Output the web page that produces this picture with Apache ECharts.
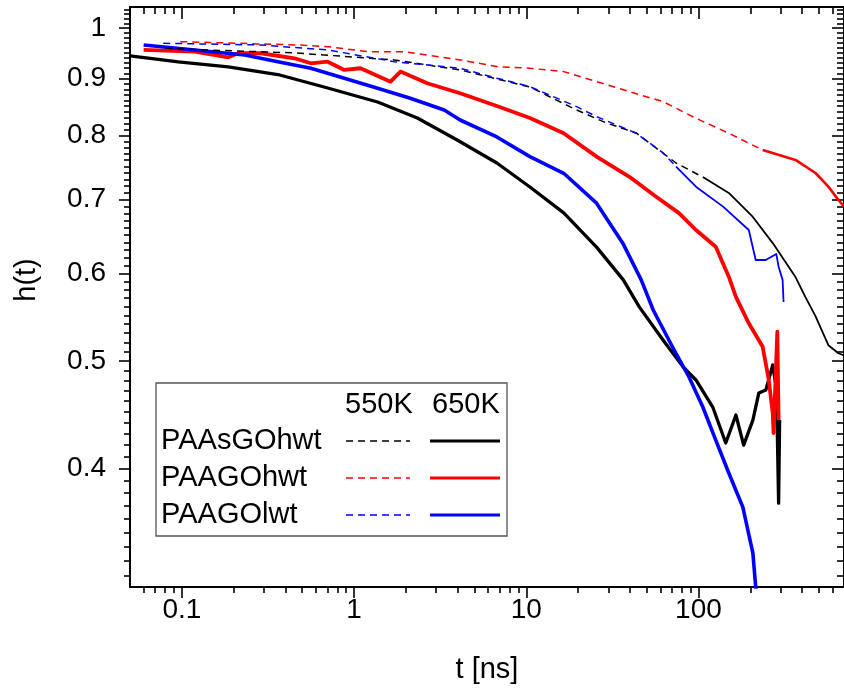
<!DOCTYPE html>
<html>
<head>
<meta charset="utf-8">
<script src="https://cdn.jsdelivr.net/npm/echarts@6/dist/echarts.min.js"></script>
<style>
html, body { margin: 0; padding: 0; background: #fff; }
#chart { width: 844px; height: 691px; }
</style>
</head>
<body>
<div id="chart"></div>
<script>
// Relaxation function h(t) versus time t [ns], per sample and temperature.
const tSGOhwt550 = [0.08, 0.142, 0.453, 1.71, 4.13, 6.75, 10.5, 19.6, 29.2, 43.5, 74.1, 106, 150, 207, 270, 366, 418, 478, 568, 649, 700];
const hSGOhwt550 = [0.959, 0.9556, 0.9497, 0.936, 0.9167, 0.8997, 0.8846, 0.8434, 0.8209, 0.804, 0.7553, 0.7335, 0.7096, 0.6751, 0.6393, 0.5957, 0.5714, 0.5492, 0.5169, 0.5083, 0.506];

const tSGOhwt650 = [0.05, 0.0954, 0.186, 0.361, 0.703, 1.37, 2.33, 3.97, 6.75, 10.5, 16.5, 25.6, 36.6, 45.3, 62.4, 81.4, 96.7, 121, 144, 165, 183, 207, 224, 246, 270, 284, 292, 296];
const hSGOhwt650 = [0.9438, 0.9321, 0.9224, 0.908, 0.8829, 0.8575, 0.8294, 0.7923, 0.7553, 0.7185, 0.6808, 0.634, 0.5922, 0.5598, 0.5223, 0.4941, 0.4808, 0.4545, 0.4217, 0.447, 0.4199, 0.4423, 0.4679, 0.4708, 0.4961, 0.4708, 0.3721, 0.4423];

const tGOhwt550 = [0.098, 0.471, 0.703, 1.2, 1.96, 4.13, 6.75, 10.5, 16.5, 25.6, 39.7, 62.4, 96.7, 150, 236, 366, 478, 568, 649, 700];
const hGOhwt550 = [0.9723, 0.9656, 0.9622, 0.9522, 0.9522, 0.936, 0.9231, 0.9199, 0.9135, 0.8946, 0.8762, 0.8581, 0.829, 0.8035, 0.7759, 0.7601, 0.7397, 0.719, 0.6995, 0.69];

const tGOhwt650 = [0.06, 0.119, 0.186, 0.212, 0.288, 0.451, 0.561, 0.703, 0.878, 1.09, 1.63, 1.86, 2.66, 4.13, 6.75, 10.5, 16.5, 25.6, 39.7, 56.8, 77.1, 96.7, 126, 150, 165, 196, 236, 256, 270, 273, 287, 292];
const hGOhwt650 = [0.9556, 0.9522, 0.9412, 0.9491, 0.9491, 0.9392, 0.9295, 0.9326, 0.9167, 0.9199, 0.8946, 0.9135, 0.8917, 0.8733, 0.8505, 0.8294, 0.8035, 0.7653, 0.7339, 0.7041, 0.6804, 0.657, 0.6344, 0.5961, 0.5717, 0.541, 0.5152, 0.4808, 0.4485, 0.4305, 0.5316, 0.4423];

const tGOlwt550 = [0.078, 0.288, 0.703, 1.71, 4.13, 6.75, 10.5, 19.6, 25.6, 43.5, 62.4, 74.1, 96.7, 139, 196, 215, 246, 283, 292, 308, 312];
const hGOlwt550 = [0.969, 0.9656, 0.9556, 0.9326, 0.9199, 0.901, 0.8854, 0.8492, 0.8319, 0.8035, 0.7712, 0.7496, 0.719, 0.6897, 0.657, 0.6172, 0.6172, 0.625, 0.6087, 0.5922, 0.5656];

const tGOlwt650 = [0.06, 0.119, 0.232, 0.361, 0.561, 0.878, 1.37, 2.12, 3.34, 4.13, 6.75, 10.5, 16.5, 25.6, 36.6, 46.5, 54.6, 71.2, 88.1, 106, 126, 150, 181, 207, 215, 221];
const hGOlwt650 = [0.9656, 0.9556, 0.9457, 0.9326, 0.9199, 0.901, 0.8823, 0.8642, 0.8434, 0.826, 0.7974, 0.7653, 0.7393, 0.6947, 0.638, 0.5922, 0.5562, 0.5139, 0.4838, 0.4545, 0.4242, 0.3962, 0.369, 0.3353, 0.3125, 0.3041];

// Beyond these times the dense 550K traces read as continuous lines
const tailStart550 = { SGOhwt: 106, GOhwt: 236, GOlwt: 74.1 };

// Axis ranges and tick labels
const tRange = [0.05, 700];
const hRange = [0.3125, 1.045];
const xMajorTicks = [0.1, 1, 10, 100];
const yMajorTicks = [0.4, 0.5, 0.6, 0.7, 0.8, 0.9, 1];

// Minor ticks: 2..9 per decade on t, every 0.01 on h
function logMinorTicks(lo, hi) {
  const out = [];
  for (let e = -2; e <= 3; e++) {
    for (let m = 2; m <= 9; m++) {
      const v = +(m * Math.pow(10, e)).toPrecision(3);
      if (v > lo && v < hi) out.push(v);
    }
  }
  return out;
}
function stepMinorTicks(lo, hi, step, majors) {
  const out = [];
  for (let k = Math.ceil(lo / step); k * step < hi; k++) {
    const v = +(k * step).toFixed(2);
    if (majors.indexOf(v) < 0) out.push(v);
  }
  return out;
}
const xMinorTicks = logMinorTicks(tRange[0], tRange[1]);
const yMinorTicks = stepMinorTicks(hRange[0], hRange[1], 0.01, yMajorTicks);

const FONT = '"Liberation Sans", Arial, Helvetica, sans-serif';
const zip = (xs, ys) => xs.map((x, i) => [x, ys[i]]);

function xAxisDef(position, ticks, len, withLabels) {
  const ax = {
    type: 'log', logBase: 10, position: position,
    min: tRange[0], max: tRange[1],
    axisLine: { show: true, onZero: false, lineStyle: { color: '#000', width: 2 } },
    axisTick: { show: true, inside: position === 'top', length: len, customValues: ticks,
      lineStyle: { color: '#000', width: 1.6 } },
    axisLabel: { show: false },
    splitLine: { show: false }, minorTick: { show: false }, minorSplitLine: { show: false }
  };
  if (withLabels) {
    ax.axisLabel = { show: true, customValues: xMajorTicks, margin: 9, color: '#000',
      fontSize: 28, fontFamily: FONT, formatter: v => String(v) };
    ax.name = 't [ns]';
    ax.nameLocation = 'middle';
    ax.nameGap = 68;
    ax.nameTextStyle = { color: '#000', fontSize: 29, fontFamily: FONT };
  }
  return ax;
}
function yAxisDef(position, ticks, len, withLabels) {
  const ax = {
    type: 'log', logBase: 10, position: position,
    min: hRange[0], max: hRange[1],
    axisLine: { show: true, onZero: false, lineStyle: { color: '#000', width: 2 } },
    axisTick: { show: true, inside: position === 'right', length: len, customValues: ticks,
      lineStyle: { color: '#000', width: 1.6 } },
    axisLabel: { show: false },
    splitLine: { show: false }, minorTick: { show: false }, minorSplitLine: { show: false }
  };
  if (withLabels) {
    ax.axisLabel = { show: true, customValues: yMajorTicks, margin: 24, color: '#000',
      fontSize: 28, fontFamily: FONT, formatter: v => String(v) };
  }
  return ax;
}

function lineSeries(name, points, style, z) {
  return {
    name: name, type: 'line', xAxisIndex: 0, yAxisIndex: 0,
    data: points, showSymbol: false, symbol: 'none', smooth: false,
    clip: true, silent: true, lineStyle: style, z: z
  };
}
// 650K: thick solid trace
function solidCurve(name, ts, hs, color, width) {
  return [lineSeries(name, zip(ts, hs), { color: color, width: width, join: 'round' }, 2)];
}
// 550K: thin dashed trace, continuous from tail onward
function dashedCurve(name, ts, hs, color, tail, tailWidth) {
  const pts = zip(ts, hs);
  const k = ts.indexOf(tail);
  return [
    lineSeries(name, pts.slice(0, k + 1), { color: color, width: 1.5, type: [7, 5] }, 3),
    lineSeries(name + ' tail', pts.slice(k), { color: color, width: tailWidth, join: 'round' }, 3)
  ];
}

const chart = echarts.init(document.getElementById('chart'), null, { renderer: 'canvas' });

// Two-column key: 550K (dashed) and 650K (solid)
const keyX = 156, keyY = 383, rowY = [441, 478, 515];
const keyRows = ['PAAsGOhwt', 'PAAGOhwt', 'PAAGOlwt'];
const keyColors = ['#000000', '#ff0000', '#0000ff'];
const keyGraphics = [
  { type: 'rect', shape: { x: keyX, y: keyY, width: 351, height: 153 },
    style: { fill: '#fff', stroke: '#555', lineWidth: 1.3 }, z: 10 },
  { type: 'text', x: 345, y: 405, z: 11,
    style: { text: '550K', fontSize: 29, fontFamily: FONT, fill: '#000', align: 'left', verticalAlign: 'middle' } },
  { type: 'text', x: 432, y: 405, z: 11,
    style: { text: '650K', fontSize: 29, fontFamily: FONT, fill: '#000', align: 'left', verticalAlign: 'middle' } }
];
keyRows.forEach((label, i) => {
  keyGraphics.push({ type: 'text', x: 161, y: rowY[i], z: 11,
    style: { text: label, fontSize: 29, fontFamily: FONT, fill: '#000', align: 'left', verticalAlign: 'middle' } });
  keyGraphics.push({ type: 'line', z: 11, shape: { x1: 346, y1: rowY[i], x2: 410, y2: rowY[i] },
    style: { stroke: keyColors[i], lineWidth: 1.5, lineDash: [7, 5] } });
  keyGraphics.push({ type: 'line', z: 11, shape: { x1: 430, y1: rowY[i], x2: 500, y2: rowY[i] },
    style: { stroke: keyColors[i], lineWidth: 3 } });
});
keyGraphics.push({ type: 'text', x: 27, y: 280, rotation: Math.PI / 2, z: 11,
  style: { text: 'h(t)', fontSize: 29, fontFamily: FONT, fill: '#000', align: 'center', verticalAlign: 'middle' } });

chart.setOption({
  animation: false,
  backgroundColor: '#fff',
  grid: { left: 130, right: -5, top: 7, bottom: 104, containLabel: false },
  xAxis: [
    xAxisDef('bottom', xMajorTicks, 11, true),
    xAxisDef('bottom', xMinorTicks, 6, false),
    xAxisDef('top', xMajorTicks, 12, false),
    xAxisDef('top', xMinorTicks, 7, false)
  ],
  yAxis: [
    yAxisDef('left', yMajorTicks, 11, true),
    yAxisDef('left', yMinorTicks, 6, false),
    yAxisDef('right', yMajorTicks, 12, false),
    yAxisDef('right', yMinorTicks, 7, false)
  ],
  series: [].concat(
    dashedCurve('PAAsGOhwt 550K', tSGOhwt550, hSGOhwt550, '#000000', tailStart550.SGOhwt, 1.8),
    dashedCurve('PAAGOhwt 550K', tGOhwt550, hGOhwt550, '#ff0000', tailStart550.GOhwt, 2.6),
    dashedCurve('PAAGOlwt 550K', tGOlwt550, hGOlwt550, '#0000ff', tailStart550.GOlwt, 1.8),
    solidCurve('PAAsGOhwt 650K', tSGOhwt650, hSGOhwt650, '#000000', 3.3),
    solidCurve('PAAGOhwt 650K', tGOhwt650, hGOhwt650, '#ff0000', 3.8),
    solidCurve('PAAGOlwt 650K', tGOlwt650, hGOlwt650, '#0000ff', 3.6)
  ),
  graphic: keyGraphics
});
</script>
</body>
</html>
